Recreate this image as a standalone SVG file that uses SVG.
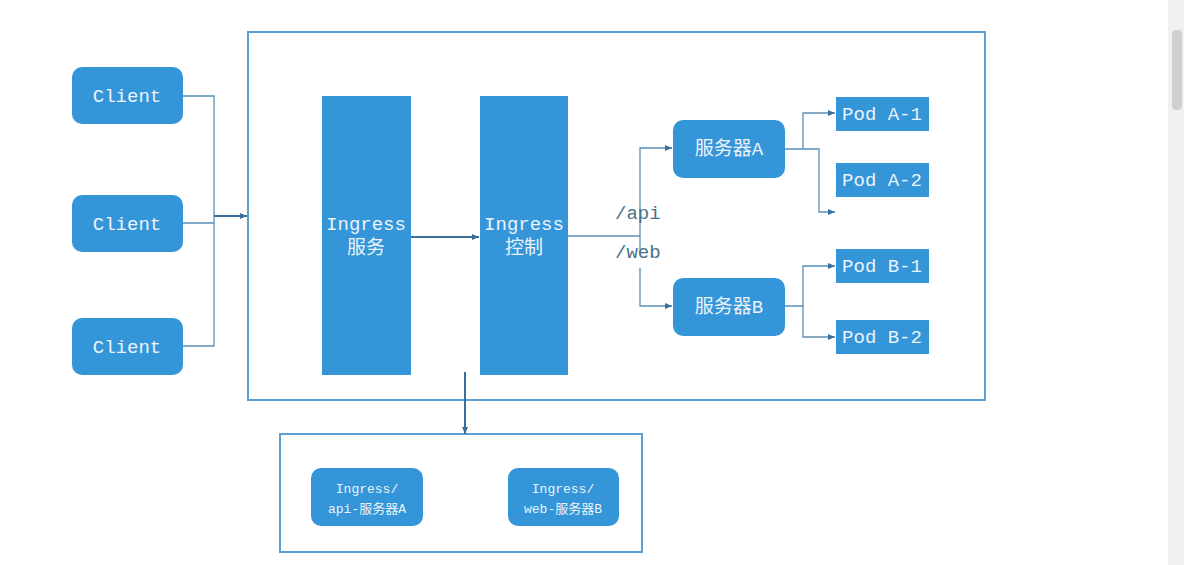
<svg xmlns="http://www.w3.org/2000/svg" width="1184" height="565" viewBox="0 0 1184 565">
<style>
.n{fill:#3496d8}
.t{fill:#eaf3fb;font-family:"Liberation Mono","Noto Sans CJK SC",monospace;font-size:19px;text-anchor:middle}
.s{font-size:13px}
.frame{fill:none;stroke:#5a9fd6;stroke-width:2}
.c{fill:none;stroke:#5a8fb8;stroke-width:1.3}
.a{fill:none;stroke:#3a6f9c;stroke-width:2}
.l{fill:#4a6f8a;font-family:"Liberation Mono","Noto Sans CJK SC",monospace;font-size:19px}
</style>
<defs><marker id="m" markerWidth="8" markerHeight="8" refX="7" refY="4" orient="auto" markerUnits="userSpaceOnUse"><path d="M0,1 L7,4 L0,7 Z" fill="#3a6f9c"/></marker></defs>
<rect width="1184" height="565" fill="#ffffff"/>
<rect x="1168" y="0" width="16" height="565" fill="#f1f1f1"/>
<rect x="1172" y="30" width="10" height="80" rx="4" fill="#d0d0d0"/>
<rect class="frame" x="248" y="32" width="737" height="368"/>
<rect class="frame" x="280" y="434" width="362" height="118"/>
<g id="connectors">
<path class="c" d="M183,96 H214 V346 H183 M183,223 H214"/>
<path class="a" d="M214,216 H247" marker-end="url(#m)"/>
<path class="a" d="M411,237 H479" marker-end="url(#m)"/>
<path class="c" d="M568,236 H640"/>
<path class="c" d="M640,236 V148 H672" marker-end="url(#m)"/>
<path class="c" d="M640,236 V252 M640,268 V306 H672" marker-end="url(#m)"/>
<path class="c" d="M785,149 H819 V212 H835" marker-end="url(#m)"/>
<path class="c" d="M803,149 V113 H835" marker-end="url(#m)"/>
<path class="c" d="M785,306 H803 V266 H835" marker-end="url(#m)"/>
<path class="c" d="M803,306 V337 H835" marker-end="url(#m)"/>
<path class="a" d="M465,372 V434" marker-end="url(#m)"/>
</g>
<text class="l" x="615" y="219">/api</text>
<text class="l" x="615" y="258">/web</text>
<g id="client1"><rect class="n" x="72" y="67" width="111" height="57" rx="10"/><text class="t" x="127" y="102">Client</text></g>
<g id="client2"><rect class="n" x="72" y="195" width="111" height="57" rx="10"/><text class="t" x="127" y="230">Client</text></g>
<g id="client3"><rect class="n" x="72" y="318" width="111" height="57" rx="10"/><text class="t" x="127" y="353">Client</text></g>
<g id="ingress-svc"><rect class="n" x="322" y="96" width="89" height="279"/><text class="t" x="366" y="230">Ingress</text><text class="t" x="366" y="254">服务</text></g>
<g id="ingress-ctl"><rect class="n" x="480" y="96" width="88" height="279"/><text class="t" x="524" y="230">Ingress</text><text class="t" x="524" y="254">控制</text></g>
<g id="serverA"><rect class="n" x="673" y="120" width="112" height="58" rx="10"/><text class="t" x="729" y="155">服务器A</text></g>
<g id="serverB"><rect class="n" x="673" y="278" width="112" height="58" rx="10"/><text class="t" x="729" y="313">服务器B</text></g>
<g id="podA1"><rect class="n" x="836" y="97" width="93" height="34"/><text class="t" x="882" y="120">Pod A-1</text></g>
<g id="podA2"><rect class="n" x="836" y="163" width="93" height="34"/><text class="t" x="882" y="186">Pod A-2</text></g>
<g id="podB1"><rect class="n" x="836" y="249" width="93" height="34"/><text class="t" x="882" y="272">Pod B-1</text></g>
<g id="podB2"><rect class="n" x="836" y="320" width="93" height="34"/><text class="t" x="882" y="343">Pod B-2</text></g>
<g id="ruleA"><rect class="n" x="311" y="468" width="112" height="58" rx="10"/><text class="t s" x="367" y="493">Ingress/</text><text class="t s" x="367" y="513">api-服务器A</text></g>
<g id="ruleB"><rect class="n" x="508" y="468" width="111" height="58" rx="10"/><text class="t s" x="563" y="493">Ingress/</text><text class="t s" x="563" y="513">web-服务器B</text></g>
</svg>
